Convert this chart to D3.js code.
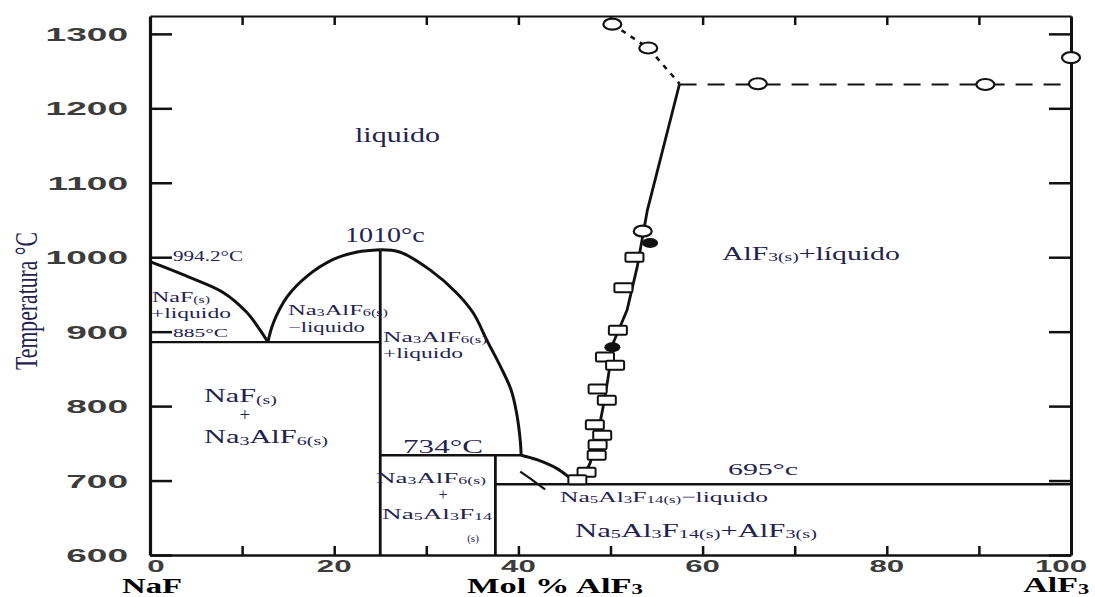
<!DOCTYPE html>
<html>
<head>
<meta charset="utf-8">
<title>NaF - AlF3</title>
<style>
  body { margin: 0; background: #fff; }
  svg { display: block; }
</style>
</head>
<body>
<div id="chart"></div>
<script src="https://cdn.jsdelivr.net/npm/d3@7/dist/d3.min.js"></script>
<script>
  // NaF - AlF3 phase diagram (mol % AlF3, °C)
  let yTickLabels = [600, 700, 800, 900, 1000, 1100, 1200, 1300];
  let xTickLabels = [0, 20, 40, 60, 80, 100];
  let minorTicks = [10, 20, 30, 40, 50, 60, 70, 80, 90];

  let nafLiquidus = [[0, 994], [4.3, 973], [7.9, 953], [10.5, 926], [11.9, 903], [12.8, 886]];
  let cryoliteLeft = [[12.8, 886], [13.4, 912], [14.9, 947], [17.0, 974], [19.9, 997], [22.5, 1007], [25, 1010]];
  let cryoliteRight = [[25, 1010], [27.1, 1007], [30.4, 983], [33.3, 952], [35.1, 925], [36.6, 888], [38.1, 852],
                       [39.2, 822], [39.8, 791], [40.2, 754], [40.3, 734]];
  let peritectic = [[40.3, 734], [42, 728], [44.2, 716], [46, 700], [46.7, 695]];
  let alf3Liquidus = [[46.7, 695], [47.8, 724], [48.5, 754], [49.2, 799], [49.7, 835], [50.3, 885], [51.8, 929],
                      [52.9, 987], [54.0, 1063], [57.5, 1233]];
  let upperCurve = [[50.2, 1313], [54.1, 1281], [57.5, 1233]];
  let sublimation = [[57.5, 1232], [100, 1232]];
  let leader = [[40.2, 712], [41.6, 700], [42.9, 688]];

  let isotherms = [{from: 0, to: 25, T: 886}, {from: 25, to: 40.3, T: 734}, {from: 37.5, to: 100, T: 695}];
  let compounds = [{m: 25, top: 1010}, {m: 37.5, top: 734}];

  let openCircles = [[50.2, 1313], [54.1, 1281], [66, 1233], [90.7, 1232], [100, 1268], [53.5, 1035]];
  let filledMarks = [[54.3, 1019], [50.2, 879]];
  let squares = [[52.6, 1000], [51.4, 959], [50.8, 902], [49.4, 866], [50.5, 855], [48.6, 823], [49.6, 808],
                 [48.3, 775], [49.1, 761], [48.6, 748], [48.5, 734], [47.4, 711], [46.4, 701]];

  // text in braces is subscript
  let notes = [
    {t: 'liquido', m: 22.26, T: 1154.7, size: 20, w: 85},
    {t: '1010°c', m: 21.17, T: 1020.4, size: 20, w: 80},
    {t: '994.2°C', m: 2.5, T: 994.9, size: 14, w: 70},
    {t: 'NaF{(s)}', m: 0.22, T: 939.8, size: 15, w: 58},
    {t: '+liquido', m: 0.11, T: 918.3, size: 15, w: 80},
    {t: '885°C', m: 2.5, T: 892.8, size: 13, w: 55},
    {t: 'Na{3}AlF{6(s)}', m: 14.98, T: 922.4, size: 15, w: 100},
    {t: '−liquido', m: 14.98, T: 899.5, size: 15, w: 77},
    {t: 'Na{3}AlF{6(s)}', m: 25.3, T: 886.1, size: 15, w: 104},
    {t: '+liquido', m: 25.3, T: 864.6, size: 15, w: 80},
    {t: 'NaF{(s)}', m: 5.86, T: 805.5, size: 19, w: 73},
    {t: '+', m: 10.31, T: 779.5, size: 19, anchor: 'middle'},
    {t: 'Na{3}AlF{6(s)}', m: 5.86, T: 750.4, size: 19, w: 124},
    {t: '734°C', m: 27.47, T: 737, size: 19, w: 80},
    {t: 'Na{3}AlF{6(s)}', m: 24.54, T: 696.7, size: 15, w: 110},
    {t: '+', m: 31.81, T: 673.9, size: 16, anchor: 'middle'},
    {t: 'Na{5}Al{3}F{14}', m: 25.19, T: 648.4, size: 15, w: 110},
    {t: '(s)', m: 35.07, T: 617.5, size: 11, anchor: 'middle'},
    {t: 'Na{5}Al{3}F{14(s)}−liquido', m: 44.52, T: 671.2, size: 15, w: 208},
    {t: 'Na{5}Al{3}F{14(s)}+AlF{3(s)}', m: 46.15, T: 624.2, size: 18, w: 242},
    {t: '695°c', m: 62.76, T: 707.5, size: 16, w: 70},
    {t: 'AlF{3(s)}+líquido', m: 62.1, T: 996.2, size: 18, w: 178},
    {t: 'NaF', m: 0.22, T: 549, size: 21, w: 60, anchor: 'middle', bold: true},
    {t: 'Mol % AlF{3}', m: 43.97, T: 549.5, size: 21, w: 176, anchor: 'middle', bold: true},
    {t: 'AlF{3}', m: 98.4, T: 550, size: 21, w: 66, anchor: 'middle', bold: true}
  ];

  function translate(x, y) {
    return 'translate(' + x + ', ' + y + ')';
  }

  let svgWidth = 1095;
  let svgHeight = 597;
  let ink = '#111';
  let navy = '#1f2350';

  let svg = d3.select('#chart')
    .append('svg')
      .attr('width', svgWidth)
      .attr('height', svgHeight)
      .style('background', '#fff');

  let x = d3.scaleLinear().domain([0, 100]).range([150, 1071]);
  let y = d3.scaleLinear().domain([600, 1324]).range([555, 16]);

  // frame + ticks (all pointing inward)
  function styleAxis(g, w) {
    g.select('.domain').attr('stroke', ink).attr('stroke-width', w);
    g.selectAll('.tick line').attr('stroke', ink).attr('stroke-width', 2.5);
  }
  svg.append('g').attr('transform', translate(x(0), 0))
    .call(d3.axisLeft(y).tickValues(yTickLabels).tickSizeInner(-22).tickSizeOuter(0).tickFormat(''))
    .call(g => styleAxis(g, 3.2));
  svg.append('g').attr('transform', translate(x(100), 0))
    .call(d3.axisRight(y).tickValues(yTickLabels).tickSizeInner(-22).tickSizeOuter(0).tickFormat(''))
    .call(g => styleAxis(g, 3));
  svg.append('g').attr('transform', translate(0, y(1324)))
    .call(d3.axisTop(x).tickValues(minorTicks).tickSizeInner(-9).tickSizeOuter(0).tickFormat(''))
    .call(g => styleAxis(g, 2));
  svg.append('g').attr('transform', translate(0, y(600)))
    .call(d3.axisBottom(x).tickValues(minorTicks).tickSizeInner(-9).tickSizeOuter(0).tickFormat(''))
    .call(g => styleAxis(g, 2.5));

  // stretched tick labels
  svg.selectAll('.ylab')
    .data(yTickLabels)
    .enter()
    .append('text')
      .attr('transform', d => translate(128, y(d) + 7) + ' scale(1.95,1)')
      .attr('text-anchor', 'end')
      .attr('font-family', 'Liberation Sans, Arial, sans-serif')
      .attr('font-weight', 'bold')
      .attr('font-size', 19)
      .attr('fill', '#3c3c3c')
      .text(d => d);
  svg.selectAll('.xlab')
    .data(xTickLabels)
    .enter()
    .append('text')
      .attr('transform', d => translate(d === 100 ? x(d) - 10 : x(d) + (d === 0 ? 6 : 0), 572) + ' scale(1.95,1)')
      .attr('text-anchor', 'middle')
      .attr('font-family', 'Liberation Sans, Arial, sans-serif')
      .attr('font-weight', 'bold')
      .attr('font-size', 16)
      .attr('fill', '#3c3c3c')
      .text(d => d);

  // lines of the diagram
  let line = d3.line().x(d => x(d[0])).y(d => y(d[1]));
  let smooth = d3.line().x(d => x(d[0])).y(d => y(d[1])).curve(d3.curveCatmullRom);

  [nafLiquidus, cryoliteLeft, cryoliteRight, peritectic].forEach(function(c) {
    svg.append('path').attr('d', smooth(c))
      .attr('fill', 'none').attr('stroke', ink).attr('stroke-width', 3);
  });
  svg.append('path').attr('d', line(alf3Liquidus))
    .attr('fill', 'none').attr('stroke', ink).attr('stroke-width', 2.8);
  svg.append('path').attr('d', smooth(leader))
    .attr('fill', 'none').attr('stroke', ink).attr('stroke-width', 2.2);
  svg.append('path').attr('d', line(upperCurve))
    .attr('fill', 'none').attr('stroke', ink).attr('stroke-width', 2.6)
    .attr('stroke-dasharray', '5,6');
  svg.append('path').attr('d', line(sublimation))
    .attr('fill', 'none').attr('stroke', ink).attr('stroke-width', 2)
    .attr('stroke-dasharray', '17,11');

  svg.selectAll('.iso')
    .data(isotherms)
    .enter()
    .append('line')
      .attr('x1', d => x(d.from)).attr('x2', d => x(d.to))
      .attr('y1', d => y(d.T)).attr('y2', d => y(d.T))
      .attr('stroke', ink).attr('stroke-width', 2.4);
  svg.selectAll('.comp')
    .data(compounds)
    .enter()
    .append('line')
      .attr('x1', d => x(d.m)).attr('x2', d => x(d.m))
      .attr('y1', d => y(600)).attr('y2', d => y(d.top))
      .attr('stroke', ink).attr('stroke-width', 2.8);

  // experimental points
  svg.selectAll('.sq')
    .data(squares)
    .enter()
    .append('rect')
      .attr('x', d => x(d[0]) - 9).attr('y', d => y(d[1]) - 4.5)
      .attr('width', 18).attr('height', 9).attr('rx', 1.5)
      .attr('fill', '#fff').attr('stroke', ink).attr('stroke-width', 2);
  svg.selectAll('.fill')
    .data(filledMarks)
    .enter()
    .append('ellipse')
      .attr('cx', d => x(d[0])).attr('cy', d => y(d[1]))
      .attr('rx', 8).attr('ry', 5)
      .attr('fill', ink);
  svg.selectAll('.oc')
    .data(openCircles)
    .enter()
    .append('ellipse')
      .attr('cx', d => x(d[0])).attr('cy', d => y(d[1]))
      .attr('rx', 9).attr('ry', 5.5)
      .attr('fill', '#fff').attr('stroke', ink).attr('stroke-width', 2.2);

  // text with subscripts, stretched to the width it has in the picture
  function rich(text, str, size) {
    let parts = str.split(/(\{[^}]*\})/).filter(s => s.length);
    let off = 0;
    parts.forEach(function(p) {
      let sub = p[0] === '{';
      let shift = sub ? size * 0.08 : 0;
      text.append('tspan')
        .attr('dy', shift - off)
        .attr('font-size', sub ? size * 0.66 : size)
        .text(sub ? p.slice(1, -1) : p);
      off = shift;
    });
  }

  notes.forEach(function(d) {
    let g = svg.append('g').attr('transform', translate(x(d.m), y(d.T)));
    let t = g.append('text')
      .attr('font-family', 'Liberation Serif, Times New Roman, serif')
      .attr('font-size', d.size)
      .attr('font-weight', d.bold ? 'bold' : 'normal')
      .attr('fill', d.bold ? '#000' : navy)
      .attr('text-anchor', d.anchor || 'start');
    rich(t, d.t, d.size);
    if (d.w) {
      let bw = t.node().getBBox().width;
      t.attr('transform', 'scale(' + (d.w / bw) + ',1)');
    }
  });

  // y title: tall letters, squeezed along the text
  let yt = svg.append('g').attr('transform', translate(37, 301) + ' rotate(-90)')
    .append('text')
      .attr('text-anchor', 'middle')
      .attr('font-family', 'Liberation Serif, Times New Roman, serif')
      .attr('font-size', 32)
      .attr('fill', navy)
      .text('Temperatura °C');
  yt.attr('transform', 'scale(' + (138 / yt.node().getBBox().width) + ',1)');
</script>
</body>
</html>
